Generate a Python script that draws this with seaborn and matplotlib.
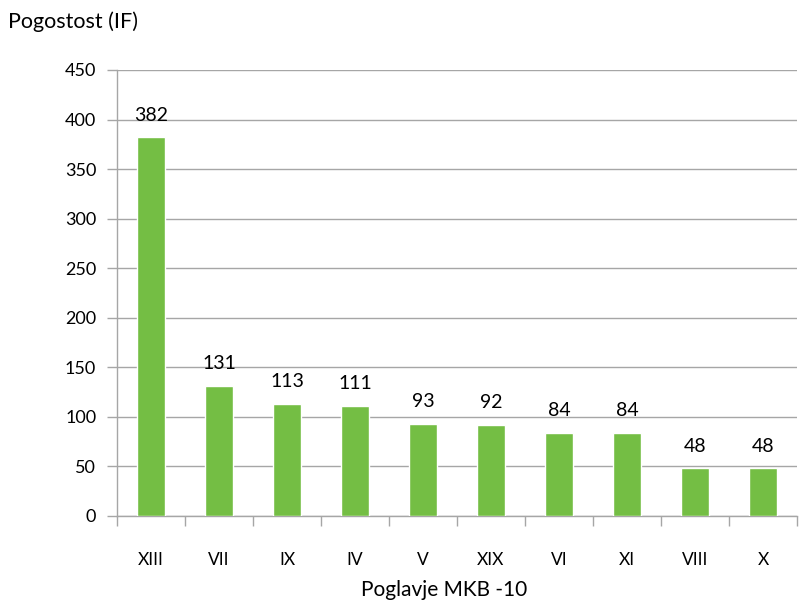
import matplotlib
matplotlib.use("Agg")
import matplotlib.pyplot as plt
import seaborn as sns
import pandas as pd

chapters = ["XIII", "VII", "IX", "IV", "V", "XIX", "VI", "XI", "VIII", "X"]
counts = [382, 131, 113, 111, 93, 92, 84, 84, 48, 48]
y_ticks = [0, 50, 100, 150, 200, 250, 300, 350, 400, 450]

sns.set_theme(style="white")
plt.rcParams["font.family"] = ["Lato", "DejaVu Sans"]

df = pd.DataFrame({"chapter": chapters, "count": counts})

fig = plt.figure(figsize=(8.01, 6.02), dpi=100)
ax = fig.add_axes([117 / 801, 1 - 516 / 602, (797 - 117) / 801, (516 - 70) / 602])

sns.barplot(data=df, x="chapter", y="count", color="#74BE44", saturation=1,
            width=0.41, ax=ax, zorder=3)

grid_c = "#A6A6A6"
ax.set_ylim(0, 450)
ax.set_xlim(-0.5, len(chapters) - 0.5)
ax.set_yticks(y_ticks)
ax.yaxis.grid(True, color=grid_c, linewidth=1, zorder=0)
for s in ["top", "right"]:
    ax.spines[s].set_visible(False)
for s in ["left", "bottom"]:
    ax.spines[s].set_color(grid_c)
    ax.spines[s].set_linewidth(1)

# category boundaries carry the x tick marks
ax.set_xticks([i - 0.5 for i in range(len(chapters) + 1)], minor=True)
ax.tick_params(axis="x", which="minor", length=7, width=1, color=grid_c, direction="out", bottom=True)
ax.tick_params(axis="x", which="major", length=0, pad=26, labelsize=12.5, labelcolor="black")
ax.tick_params(axis="y", length=7, width=1, color=grid_c, direction="out", left=True,
               pad=8, labelsize=13, labelcolor="black")

for i, v in enumerate(counts):
    ax.annotate(str(v), (i, v), xytext=(0, 10), textcoords="offset points",
                ha="center", va="bottom", fontsize=14, color="black")

ax.set_xlabel("")
ax.set_ylabel("")
fig.text(8 / 801, 1 - 22 / 602, "Pogostost (IF)", ha="left", va="center", fontsize=15.5, color="black")
fig.text(444 / 801, 1 - 590 / 602, "Poglavje MKB -10", ha="center", va="center", fontsize=15, color="black")

fig.savefig("out.png", dpi=100)
